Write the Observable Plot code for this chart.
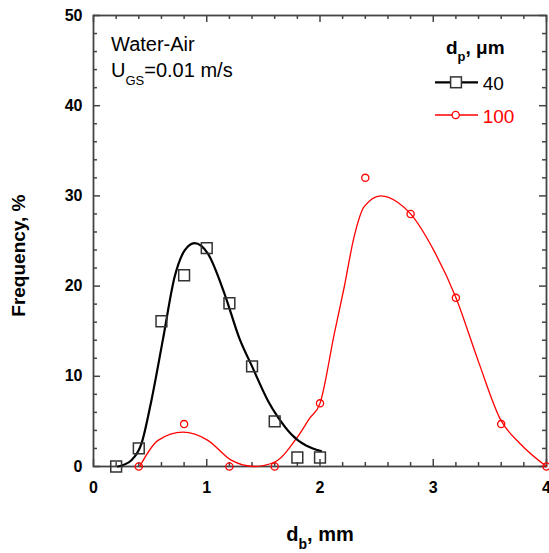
<!DOCTYPE html>
<html><head><meta charset="utf-8">
<script src="https://cdn.jsdelivr.net/npm/d3@7"></script>
<script src="https://cdn.jsdelivr.net/npm/@observablehq/plot@0.6"></script>
<style>body{margin:0;background:#fff}</style>
</head><body><div id="chart"></div>
<script>
// Tick values
const xMajor = [0, 1, 2, 3, 4];
const xMinor = [0.2, 0.4, 0.6, 0.8, 1.2, 1.4, 1.6, 1.8, 2.2, 2.4, 2.6, 2.8, 3.2, 3.4, 3.6, 3.8];
const yMajor = [0, 10, 20, 30, 40, 50];
const yMinor = [2, 4, 6, 8, 12, 14, 16, 18, 22, 24, 26, 28, 32, 34, 36, 38, 42, 44, 46, 48];

// Measured data, dp = 40 μm
const db40 = [0.2, 0.4, 0.6, 0.8, 1.0, 1.2, 1.4, 1.6, 1.8, 2.0];
const freq40 = [0, 2.0, 16.1, 21.2, 24.2, 18.1, 11.1, 5.0, 1.0, 1.0];
// Measured data, dp = 100 μm
const db100 = [0.4, 0.8, 1.2, 1.6, 2.0, 2.4, 2.8, 3.2, 3.6, 4.0];
const freq100 = [0, 4.7, 0, 0, 7.0, 32.0, 28.0, 18.7, 4.7, 0];

// Fitted curves
const fit40X = [0.217, 0.335, 0.423, 0.511, 0.614, 0.716, 0.805, 0.893, 1.01, 1.157, 1.29, 1.40, 1.54, 1.627, 1.744, 2.009];
const fit40Y = [0, 0.7, 2.5, 7.3, 14.15, 21.0, 23.95, 24.76, 23.6, 19.15, 14.15, 11.1, 7.3, 5.5, 3.6, 1.7];
const fit100X = [0.408, 0.57, 0.79, 1.01, 1.216, 1.42, 1.6, 1.80, 1.906, 2.0, 2.126, 2.214, 2.30, 2.39, 2.537, 2.685, 2.80, 3.007, 3.198, 3.40, 3.594, 3.77, 4.0];
const fit100Y = [0, 2.9, 3.8, 2.9, 0.7, 0, 0.5, 3.25, 5.3, 7.0, 14.7, 19.9, 25.4, 28.8, 30.0, 29.3, 28.0, 23.9, 18.8, 11.6, 5.2, 2.5, 0];

const pts40 = db40.map((x, i) => ({x, y: freq40[i]}));
const pts100 = db100.map((x, i) => ({x, y: freq100[i]}));
const fit40 = fit40X.map((x, i) => ({x, y: fit40Y[i]}));
const fit100 = fit100X.map((x, i) => ({x, y: fit100Y[i]}));

const W = 549, H = 553, ML = 93, MR = 3, MT = 15, MB = 87;
const innerW = W - ML - MR, innerH = H - MT - MB;
const axisColor = "#444";
const FONT = "'Liberation Sans', Arial, Helvetica, sans-serif";
const fmt = d3.format("d");
const tk = {stroke: axisColor, strokeWidth: 1.5};

const svg = Plot.plot({
  width: W, height: H,
  marginLeft: ML, marginRight: MR, marginTop: MT, marginBottom: MB,
  x: {domain: [0, 4]},
  y: {domain: [0, 50]},
  style: {fontFamily: FONT, background: "#fff", color: "#000", overflow: "visible"},
  marks: [
    Plot.axisX(xMajor, {anchor: "bottom", tickSize: 0, tickPadding: 15, tickFormat: fmt, fontSize: 16, fontWeight: "bold", label: null}),
    Plot.axisY(yMajor, {anchor: "left", tickSize: 0, tickPadding: 11, tickFormat: fmt, fontSize: 16, fontWeight: "bold", label: null}),
    // inward ticks: rules shrunk with pixel insets to a short stub at each edge
    Plot.ruleX(xMajor, {x: d => d, insetTop: innerH - 7, ...tk}),
    Plot.ruleX(xMinor, {x: d => d, insetTop: innerH - 4, ...tk}),
    Plot.ruleX(xMajor, {x: d => d, insetBottom: innerH - 7, ...tk}),
    Plot.ruleX(xMinor, {x: d => d, insetBottom: innerH - 4, ...tk}),
    Plot.ruleY(yMajor, {y: d => d, insetRight: innerW - 7, ...tk}),
    Plot.ruleY(yMinor, {y: d => d, insetRight: innerW - 4, ...tk}),
    Plot.ruleY(yMajor, {y: d => d, insetLeft: innerW - 7, ...tk}),
    Plot.ruleY(yMinor, {y: d => d, insetLeft: innerW - 4, ...tk}),
    Plot.frame({stroke: axisColor, strokeWidth: 1.8}),
    Plot.line(fit100, {x: "x", y: "y", curve: "monotone-x", stroke: "#ff0000", strokeWidth: 1.3}),
    Plot.line(fit40, {x: "x", y: "y", curve: "monotone-x", stroke: "#000", strokeWidth: 2.2}),
    Plot.dot(pts40, {x: "x", y: "y", symbol: "square", r: 6.1, stroke: "#333", strokeWidth: 1.5, fill: "none", clip: false}),
    Plot.dot(pts100, {x: "x", y: "y", symbol: "circle", r: 3.6, stroke: "#ff0000", strokeWidth: 1.3, fill: "none", clip: false})
  ]
});

const s = d3.select(svg);
function addText(x, y, parts, attrs = {}) {
  const t = s.append("text").attr("x", x).attr("y", y).attr("font-family", FONT).attr("text-anchor", "start");
  for (const [k, v] of Object.entries(attrs)) t.attr(k, v);
  for (const p of parts) {
    const ts = t.append("tspan").text(p.text);
    if (p.size) ts.attr("font-size", p.size);
    if (p.dy) ts.attr("dy", p.dy);
  }
  return t;
}

// axis titles
addText(320, 541, [{text: "d"}, {text: "b", size: 14, dy: 8}, {text: ", mm", dy: -8}],
  {"font-size": 20, "font-weight": "bold", "text-anchor": "middle"});
addText(0, 0, [{text: "Frequency, %"}],
  {"font-size": 19, "font-weight": "bold", transform: "translate(25,316.7) rotate(-90)"});

// annotation
addText(111, 51, [{text: "Water-Air"}], {"font-size": 20});
addText(111, 77.3, [{text: "U"}, {text: "GS", size: 13, dy: 8}, {text: "=0.01 m/s", dy: -8}], {"font-size": 20});

// legend
addText(446, 54.3, [{text: "d"}, {text: "p", size: 13, dy: 7}, {text: ", μm", dy: -7}], {"font-size": 19, "font-weight": "bold"});
s.append("line").attr("x1", 435).attr("x2", 478).attr("y1", 82.3).attr("y2", 82.3).attr("stroke", "#000").attr("stroke-width", 2.2);
s.append("rect").attr("x", 456 - 5.4).attr("y", 82.3 - 5.4).attr("width", 10.8).attr("height", 10.8)
  .attr("fill", "#fff").attr("stroke", "#333").attr("stroke-width", 1.5);
addText(482.7, 89.5, [{text: "40"}], {"font-size": 19});
s.append("line").attr("x1", 435).attr("x2", 478).attr("y1", 115).attr("y2", 115).attr("stroke", "#ff0000").attr("stroke-width", 1.3);
s.append("circle").attr("cx", 455.7).attr("cy", 115).attr("r", 3.6).attr("fill", "#fff").attr("stroke", "#ff0000").attr("stroke-width", 1.3);
addText(482.7, 122.5, [{text: "100"}], {"font-size": 19, fill: "#ff0000"});

document.getElementById("chart").appendChild(svg);
</script>
</body></html>
